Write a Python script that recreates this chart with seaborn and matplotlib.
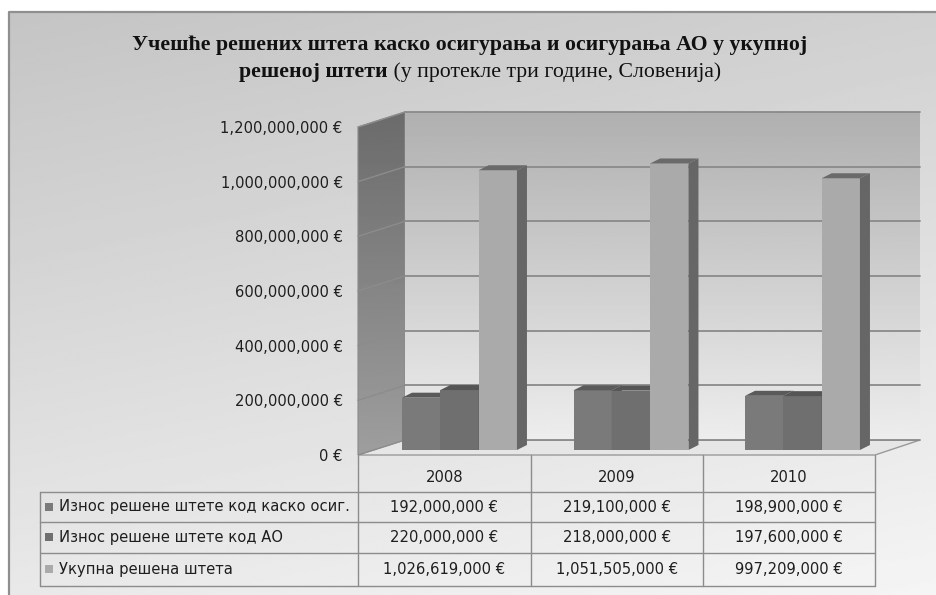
import numpy as np
import pandas as pd
import matplotlib
matplotlib.use("Agg")
import matplotlib.pyplot as plt
import seaborn as sns
from matplotlib.patches import Polygon, Rectangle

# ---------------- data ----------------
years = ["2008", "2009", "2010"]
series_names = [
    "Износ решене штете код каско осиг.",
    "Износ решене штете код АО",
    "Укупна решена штета",
]
kasko_values = [192000000, 219100000, 198900000]
ao_values = [220000000, 218000000, 197600000]
total_values = [1026619000, 1051505000, 997209000]
y_ticks = [0, 200000000, 400000000, 600000000, 800000000, 1000000000, 1200000000]
title_line1 = "Учешће решених штета каско осигурања и осигурања АО у укупној"
title_line2_bold = "решеној штети"
title_line2_normal = " (у протекле три године, Словенија)"

front_colors = ["#7a7a7a", "#6f6f6f", "#aaaaaa"]
side_colors = ["#5f5f5f", "#5a5a5a", "#666666"]
top_colors = ["#5a5a5a", "#555555", "#6a6a6a"]

def euro(v):
    return f"{v:,.0f} €"

# ---------------- figure ----------------
W, H = 937, 595
sns.set_theme(style="white")
plt.rcParams['font.family'] = ['DejaVu Sans']
FS = 10.6
fig = plt.figure(figsize=(W / 100, H / 100), dpi=100)
fig.patch.set_facecolor("white")

def rect(l, t, r, b):
    return [l / W, 1 - b / H, (r - l) / W, (b - t) / H]

# background axes in pixel coordinates
ax_bg = fig.add_axes([0, 0, 1, 1], zorder=0)
ax_bg.set_xlim(0, W)
ax_bg.set_ylim(H, 0)
ax_bg.axis("off")
yy, xx = np.mgrid[0:1:200j, 0:1:300j]
g = 0.77 + 0.19 * (0.75 * yy + 0.25 * xx)
ax_bg.imshow(g, cmap="gray", vmin=0, vmax=1, extent=(9, W, H, 12),
             aspect="auto", zorder=0, interpolation="bilinear")
ax_bg.plot([9, 9, W], [H, 12, 12], color="#8f8f8f", lw=1.6, zorder=1)

# back wall
ax_back = fig.add_axes(rect(405, 112, 920, 440), zorder=1)
ax_back.set_xlim(0, 1)
ax_back.set_ylim(0, 1.2e9)
gb = np.linspace(0.69, 0.93, 200)[:, None] * np.ones((1, 10))
ax_back.imshow(gb, cmap="gray", vmin=0, vmax=1, extent=(0, 1, 0, 1.2e9),
               aspect="auto", origin="upper", interpolation="bilinear")
for t in y_ticks:
    ax_back.axhline(t, color="#8a8a8a", lw=1.3, clip_on=False)
ax_back.set_xticks([])
ax_back.set_yticks([])
for s in ax_back.spines.values():
    s.set_visible(False)

# front axes: tick labels only
ax_front = fig.add_axes(rect(358, 127, 405, 455), zorder=2)
ax_front.set_facecolor("none")
ax_front.set_ylim(0, 1.2e9)
ax_front.set_xlim(0, 1)
ax_front.set_xticks([])
ax_front.set_yticks(y_ticks)
ax_front.set_yticklabels([euro(t) for t in y_ticks], fontsize=FS, color="#1e1e1e")
ax_front.tick_params(axis="y", length=0, pad=11)
for s in ax_front.spines.values():
    s.set_visible(False)

fig.canvas.draw()
inv_bg = ax_bg.transData.inverted()

# left wall polygon with gradient
lw_poly = [(358, 127), (405, 112), (405, 440), (358, 455)]
wall = Polygon(lw_poly, closed=True, facecolor="none", edgecolor="#8a8a8a", lw=0.8, zorder=3)
ax_bg.add_patch(wall)
gl = np.linspace(0.42, 0.62, 200)[:, None] * np.ones((1, 10))
im = ax_bg.imshow(gl, cmap="gray", vmin=0, vmax=1, extent=(358, 405, 455, 112),
                  aspect="auto", zorder=2, interpolation="bilinear")
im.set_clip_path(wall)
for t in y_ticks[1:]:
    pf = inv_bg.transform(ax_front.transData.transform((0, t)))
    pb = inv_bg.transform(ax_back.transData.transform((0, t)))
    ax_bg.plot([pf[0], pb[0]], [pf[1], pb[1]], color="#8c8c8c", lw=1, zorder=3)

# floor
floor = Polygon([(358, 455), (875, 455), (920, 440), (405, 440)], closed=True,
                facecolor="#e6e6e6", edgecolor="#9a9a9a", lw=1, zorder=2)
ax_bg.add_patch(floor)

# bars
df = pd.DataFrame({
    "year": years * 3,
    "series": [series_names[0]] * 3 + [series_names[1]] * 3 + [series_names[2]] * 3,
    "value": kasko_values + ao_values + total_values,
})
ax_bar = fig.add_axes(rect(373.75, 123, 888.25, 450), zorder=3)
sns.barplot(data=df, x="year", y="value", hue="series", hue_order=series_names,
            order=years, palette=dict(zip(series_names, front_colors)),
            width=0.67, saturation=1, legend=False, ax=ax_bar, linewidth=0, errorbar=None)
ax_bar.set_xlim(-0.5, 2.5)
ax_bar.set_ylim(0, 1.2e9)
ax_bar.axis("off")
fig.canvas.draw()
inv_bar = ax_bar.transData.inverted()
dx, dy = 10, 5
for k, cont in enumerate(ax_bar.containers):
    for bar in cont:
        bar.set_zorder(2 + k)
        x0, w, h = bar.get_x(), bar.get_width(), bar.get_height()
        p = ax_bar.transData.transform([(x0, 0), (x0 + w, 0), (x0 + w, h), (x0, h)])
        d = np.array([dx, dy])
        side = inv_bar.transform([p[1], p[1] + d, p[2] + d, p[2]])
        top = inv_bar.transform([p[3], p[2], p[2] + d, p[3] + d])
        ax_bar.add_patch(Polygon(side, closed=True, facecolor=side_colors[k],
                                 edgecolor="none", zorder=2 + k, clip_on=False))
        ax_bar.add_patch(Polygon(top, closed=True, facecolor=top_colors[k],
                                 edgecolor="none", zorder=2 + k, clip_on=False))

# data table
lc = "#8c8c8c"
col_x = [358, 531, 703, 875]
row_y = [492, 522, 553, 586]
for x in col_x:
    ax_bg.plot([x, x], [455, 586], color=lc, lw=1, zorder=3)
ax_bg.plot([40, 40], [492, 586], color=lc, lw=1, zorder=3)
for y in row_y:
    ax_bg.plot([40, 875], [y, y], color=lc, lw=1, zorder=3)
tc = "#1e1e1e"
for i, yr in enumerate(years):
    cx = (col_x[i] + col_x[i + 1]) / 2
    ax_bg.text(cx, 478, yr, ha="center", va="center", fontsize=FS, color=tc, zorder=4)
series_values = [kasko_values, ao_values, total_values]
for r in range(3):
    cy = (row_y[r] + row_y[r + 1]) / 2
    ax_bg.add_patch(Rectangle((45, cy - 4.5), 8, 8, facecolor=front_colors[r],
                              edgecolor="none", zorder=4))
    ax_bg.text(59, cy, series_names[r], ha="left", va="center", fontsize=FS, color=tc, zorder=4)
    for i in range(3):
        cx = (col_x[i] + col_x[i + 1]) / 2
        ax_bg.text(cx, cy, euro(series_values[r][i]), ha="center", va="center",
                   fontsize=FS, color=tc, zorder=4)

# title
serif = ["Liberation Serif", "DejaVu Serif"]
TFS = 15.7
ax_bg.text(470, 45, title_line1, ha="center", va="center", fontsize=TFS,
           fontweight="bold", family=serif, color="#111111", zorder=4)
r = fig.canvas.get_renderer()
tb = ax_bg.text(0, 72, title_line2_bold, ha="left", va="center", fontsize=TFS,
                fontweight="bold", family=serif, color="#111111", zorder=4)
tn = ax_bg.text(0, 72, title_line2_normal, ha="left", va="center", fontsize=TFS,
                family=serif, color="#111111", zorder=4)
wb = tb.get_window_extent(r).width
wn = tn.get_window_extent(r).width
start = 480 - (wb + wn) / 2
tb.set_x(start)
tn.set_x(start + wb)

fig.savefig("out.png", dpi=100, facecolor=fig.get_facecolor())
